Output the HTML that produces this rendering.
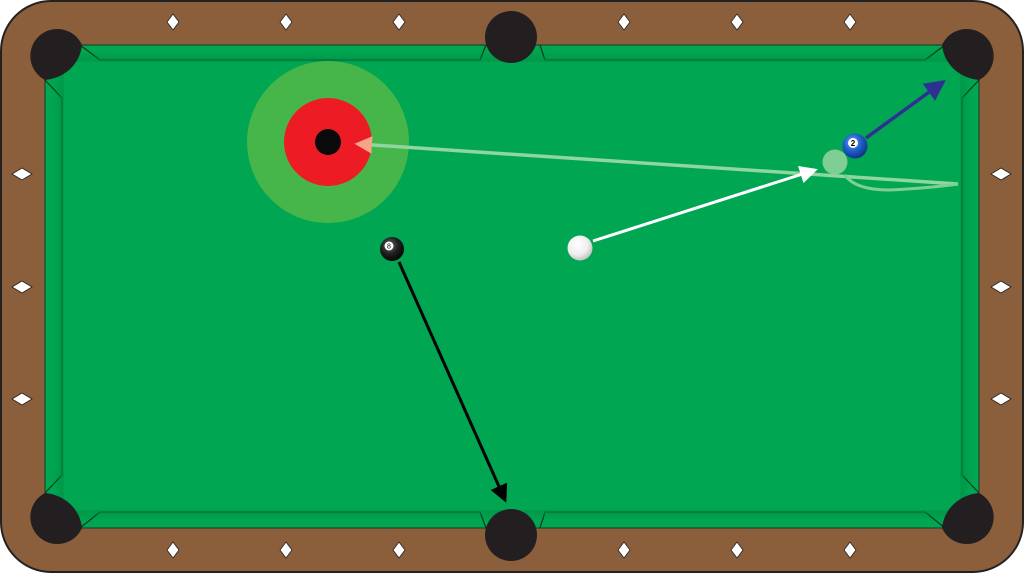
<!DOCTYPE html>
<html><head><meta charset="utf-8"><style>html,body{margin:0;padding:0;background:#fff}svg{display:block}</style></head>
<body>
<svg width="1024" height="573" viewBox="0 0 1024 573" xmlns="http://www.w3.org/2000/svg">
<defs>
<radialGradient id="cb" cx="0.4" cy="0.35" r="0.7"><stop offset="0" stop-color="#fff"/><stop offset="0.6" stop-color="#eee"/><stop offset="1" stop-color="#bbb"/></radialGradient>
<radialGradient id="eb" cx="0.4" cy="0.35" r="0.7"><stop offset="0" stop-color="#666"/><stop offset="0.5" stop-color="#222"/><stop offset="1" stop-color="#000"/></radialGradient>
<radialGradient id="bb" cx="0.4" cy="0.35" r="0.7"><stop offset="0" stop-color="#6aa0ff"/><stop offset="0.5" stop-color="#1f5fc8"/><stop offset="1" stop-color="#0a2f80"/></radialGradient>
<filter id="sh" x="-5%" y="-5%" width="110%" height="110%"><feGaussianBlur stdDeviation="4"/></filter>
<marker id="aw" markerWidth="6" markerHeight="6" refX="5" refY="3" orient="auto" markerUnits="strokeWidth"><path d="M0,0 L6,3 L0,6 z" fill="#fff"/></marker>
<marker id="ak" markerWidth="6" markerHeight="6" refX="5" refY="3" orient="auto" markerUnits="strokeWidth"><path d="M0,0 L6,3 L0,6 z" fill="#000"/></marker>
<marker id="ab" markerWidth="6" markerHeight="6" refX="5" refY="3" orient="auto" markerUnits="strokeWidth"><path d="M0,0 L6,3 L0,6 z" fill="#2e3192"/></marker>
<marker id="ap" markerWidth="5" markerHeight="5" refX="4" refY="2.5" orient="auto" markerUnits="strokeWidth"><path d="M0,0 L5,2.5 L0,5 z" fill="#f7a58a"/></marker>
</defs>
<rect x="1" y="1" width="1022" height="571" rx="50" fill="#8b5e3c" stroke="#222" stroke-width="2"/>
<rect x="45" y="45" width="934" height="483" fill="#00a651" stroke="#1a3a20" stroke-width="1"/>
<g fill="none" stroke="#0a3a1a" stroke-width="1.2">
<path d="M80,45 L100,60 L480,60 L486,45"/>
<path d="M540,45 L545,60 L925,60 L945,45"/>
<path d="M80,528 L100,512 L480,512 L486,528"/>
<path d="M540,528 L545,512 L925,512 L945,528"/>
<path d="M45,80 L62,98 L62,475 L45,493"/>
<path d="M979,80 L962,98 L962,475 L979,493"/>
</g>
<rect x="62" y="60" width="900" height="452" fill="#00a651" stroke="#0a5a2a" stroke-width="2" filter="url(#sh)"/>
<rect x="64" y="62" width="896" height="448" fill="#00a651"/>
<g fill="#231f20">
<path d="M82,45 A27,27 0 1 0 45,80 C65,78 80,64 82,45 Z"/>
<path d="M942,45 A27,27 0 1 1 979,80 C959,78 944,64 942,45 Z"/>
<path d="M82,528 A27,27 0 1 1 45,493 C65,495 80,509 82,528 Z"/>
<path d="M942,528 A27,27 0 1 0 979,493 C959,495 944,509 942,528 Z"/>
<circle cx="511" cy="37" r="26"/>
<circle cx="511" cy="535" r="26"/>
</g>
<g fill="#fff" stroke="#222" stroke-width="0.8">
<path d="M173,14 l6,8 -6,8 -6,-8z"/><path d="M286,14 l6,8 -6,8 -6,-8z"/><path d="M399,14 l6,8 -6,8 -6,-8z"/>
<path d="M624,14 l6,8 -6,8 -6,-8z"/><path d="M737,14 l6,8 -6,8 -6,-8z"/><path d="M850,14 l6,8 -6,8 -6,-8z"/>
<path d="M173,542 l6,8 -6,8 -6,-8z"/><path d="M286,542 l6,8 -6,8 -6,-8z"/><path d="M399,542 l6,8 -6,8 -6,-8z"/>
<path d="M624,542 l6,8 -6,8 -6,-8z"/><path d="M737,542 l6,8 -6,8 -6,-8z"/><path d="M850,542 l6,8 -6,8 -6,-8z"/>
<path d="M12,174 l10,-6 10,6 -10,6z"/><path d="M12,287 l10,-6 10,6 -10,6z"/><path d="M12,399 l10,-6 10,6 -10,6z"/>
<path d="M991,174 l10,-6 10,6 -10,6z"/><path d="M991,287 l10,-6 10,6 -10,6z"/><path d="M991,399 l10,-6 10,6 -10,6z"/>
</g>
<circle cx="328" cy="142" r="81" fill="#46b64b"/>
<circle cx="328" cy="142" r="44" fill="#ed1c24"/>
<circle cx="328" cy="142" r="13" fill="#0a0a0a"/>
<path d="M958,184 L358,144" stroke="#8fd6a0" stroke-width="3.5" fill="none" marker-end="url(#ap)"/>
<path d="M845,175 Q855,190 890,190 Q930,188 958,184" stroke="#7fcf95" stroke-width="3" fill="none"/>
<circle cx="835" cy="162" r="12.5" fill="#7fcf95"/>
<path d="M593,241 L815,170" stroke="#fff" stroke-width="3" fill="none" marker-end="url(#aw)"/>
<path d="M866,138 L943,82" stroke="#2e3192" stroke-width="3.5" fill="none" marker-end="url(#ab)"/>
<path d="M399,262 L505,500" stroke="#000" stroke-width="3" fill="none" marker-end="url(#ak)"/>
<circle cx="580" cy="248" r="12.5" fill="url(#cb)"/>
<circle cx="392" cy="249" r="12" fill="url(#eb)"/>
<circle cx="389" cy="246" r="4.5" fill="#fff"/><text x="389" y="248.5" font-family="Liberation Sans, sans-serif" font-size="7" text-anchor="middle" fill="#000">8</text>
<circle cx="855" cy="146" r="12.5" fill="url(#bb)"/>
<circle cx="853" cy="143" r="5" fill="#fff"/><text x="853" y="146" font-family="Liberation Sans, sans-serif" font-size="8" font-weight="bold" text-anchor="middle" fill="#000">2</text>
</svg>
</body></html>
